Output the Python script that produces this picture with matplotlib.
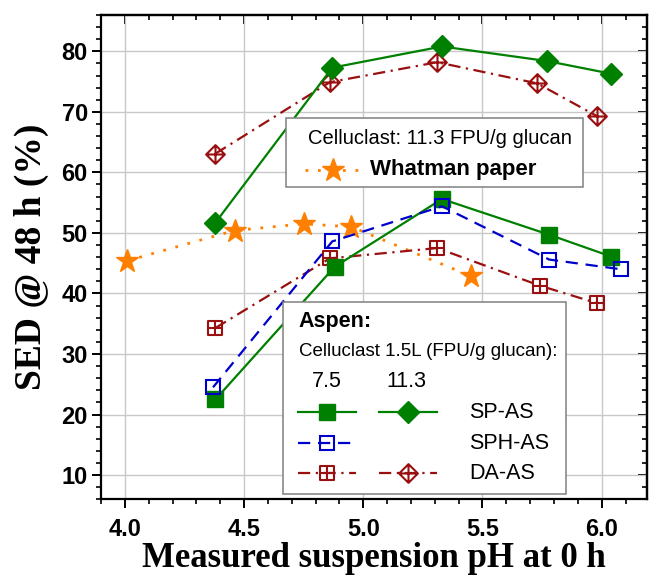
import matplotlib
matplotlib.use("Agg")
import matplotlib.pyplot as plt
from matplotlib.patches import Rectangle
from matplotlib.path import Path
from matplotlib.ticker import MultipleLocator

plt.rcParams["font.family"] = ["Liberation Sans", "DejaVu Sans"]

# Aspen pretreatments, Celluclast 1.5L at 7.5 FPU/g glucan
ph_sp_75 = [4.38, 4.88, 5.33, 5.78, 6.04]
sed_sp_75 = [22.5, 44.4, 55.6, 49.7, 46.1]
ph_sph_75 = [4.37, 4.87, 5.33, 5.78, 6.08]
sed_sph_75 = [24.5, 48.6, 54.4, 45.6, 44.0]
ph_da_75 = [4.38, 4.86, 5.31, 5.74, 5.98]
sed_da_75 = [34.3, 45.8, 47.5, 41.3, 38.4]

# Aspen pretreatments, Celluclast 1.5L at 11.3 FPU/g glucan
ph_sp_113 = [4.38, 4.87, 5.33, 5.77, 6.04]
sed_sp_113 = [51.7, 77.3, 80.8, 78.4, 76.3]
ph_da_113 = [4.38, 4.86, 5.31, 5.73, 5.98]
sed_da_113 = [63.1, 74.9, 78.2, 74.7, 69.3]

# Whatman paper reference, 11.3 FPU/g glucan
ph_whatman = [4.01, 4.46, 4.75, 4.95, 5.45]
sed_whatman = [45.4, 50.4, 51.5, 51.0, 42.9]

GREEN = "#008000"
BLUE = "#0000CC"
WINE = "#9A1010"
ORANGE = "#FF8000"

# open square / diamond with a plus inside
SQ_PLUS = Path(
    [(-1, -1), (1, -1), (1, 1), (-1, 1), (-1, -1), (0, -1), (0, 1), (-1, 0), (1, 0)],
    [Path.MOVETO, Path.LINETO, Path.LINETO, Path.LINETO, Path.CLOSEPOLY,
     Path.MOVETO, Path.LINETO, Path.MOVETO, Path.LINETO],
)
DI_PLUS = Path(
    [(0, -1), (1, 0), (0, 1), (-1, 0), (0, -1), (0, -1), (0, 1), (-1, 0), (1, 0)],
    [Path.MOVETO, Path.LINETO, Path.LINETO, Path.LINETO, Path.CLOSEPOLY,
     Path.MOVETO, Path.LINETO, Path.MOVETO, Path.LINETO],
)

DASHED = (0, (5.5, 3.5))
DASHDOT = (0, (5.5, 2.5, 1, 2.5))
DOTTED = (0, (1, 3.5))

styles = {
    "sp75": dict(color=GREEN, ls="-", lw=1.6, marker="s", ms=11, mfc=GREEN, mec=GREEN),
    "sp113": dict(color=GREEN, ls="-", lw=1.6, marker="D", ms=11.5, mfc=GREEN, mec=GREEN),
    "sph75": dict(color=BLUE, ls=DASHED, lw=1.6, marker="s", ms=10.5, mfc="none", mec=BLUE, mew=1.5),
    "da75": dict(color=WINE, ls=DASHDOT, lw=1.6, marker=SQ_PLUS, ms=10, mfc="none", mec=WINE, mew=1.5),
    "da113": dict(color=WINE, ls=DASHDOT, lw=1.6, marker=DI_PLUS, ms=13.5, mfc="none", mec=WINE, mew=1.5),
    "whatman": dict(color=ORANGE, ls=DOTTED, lw=2.0, marker="*", ms=17, mfc=ORANGE, mec=ORANGE),
}

fig = plt.figure(figsize=(6.49, 5.77), dpi=100)
ax = fig.add_axes([0.1556, 0.1347, 0.8413, 0.8393])

ax.plot(ph_whatman, sed_whatman, zorder=3, **styles["whatman"])
ax.plot(ph_da_113, sed_da_113, zorder=4, **styles["da113"])
ax.plot(ph_sp_113, sed_sp_113, zorder=5, **styles["sp113"])
ax.plot(ph_da_75, sed_da_75, zorder=4, **styles["da75"])
ax.plot(ph_sp_75, sed_sp_75, zorder=5, **styles["sp75"])
ax.plot(ph_sph_75, sed_sph_75, zorder=6, **styles["sph75"])

ax.xaxis.set_major_locator(MultipleLocator(0.5))
ax.xaxis.set_minor_locator(MultipleLocator(0.1))
ax.yaxis.set_major_locator(MultipleLocator(10))
ax.yaxis.set_minor_locator(MultipleLocator(2))
ax.set_xticks([4.0, 4.5, 5.0, 5.5, 6.0])
ax.set_xticklabels(["4.0", "4.5", "5.0", "5.5", "6.0"])
ax.set_yticks(range(10, 90, 10))
ax.set_ylim(6, 86)
ax.set_xlim(3.9, 6.19)

ax.grid(True, which="major", color="#c8c8c8", lw=1.0)
ax.set_axisbelow(True)
for sp in ax.spines.values():
    sp.set_linewidth(1.6)

ax.tick_params(which="major", direction="out", length=6.5, width=1.4,
               labelsize=17, pad=3)
ax.tick_params(which="minor", direction="out", length=3.5, width=1.2)
ax.tick_params(axis="x", which="major", pad=7)
for lab in ax.get_xticklabels() + ax.get_yticklabels():
    lab.set_fontweight("bold")

# top and right ticks point inward (Origin style)
secx = ax.secondary_xaxis("top")
secx.xaxis.set_major_locator(MultipleLocator(0.5))
secx.xaxis.set_minor_locator(MultipleLocator(0.1))
secx.tick_params(which="major", direction="in", length=6.5, width=1.4, labeltop=False)
secx.tick_params(which="minor", direction="in", length=3.5, width=1.2)
secx.spines["top"].set_linewidth(1.6)
secy = ax.secondary_yaxis("right")
secy.yaxis.set_major_locator(MultipleLocator(10))
secy.yaxis.set_minor_locator(MultipleLocator(2))
secy.tick_params(which="major", direction="in", length=6.5, width=1.4, labelright=False)
secy.tick_params(which="minor", direction="in", length=3.5, width=1.2)
secy.spines["right"].set_linewidth(1.6)

ax.set_xlabel("Measured suspension pH at 0 h", family="Liberation Serif",
              fontweight="bold", fontsize=25, labelpad=1)
ax.set_ylabel("SED @ 48 h (%)", family="Liberation Serif",
              fontweight="bold", fontsize=27, labelpad=9)


def legend_key(x0, x1, y, style):
    ax.plot([x0, (x0 + x1) / 2, x1], [y, y, y], transform=ax.transAxes,
            markevery=[1], clip_on=False, zorder=12, **style)


def legend_text(x, y, s, **kw):
    ax.text(x, y, s, transform=ax.transAxes, va="center", zorder=12, **kw)


# legend: Whatman paper
ax.add_patch(Rectangle((0.3388, 0.6442), 0.544, 0.1425, transform=ax.transAxes,
                       facecolor="white", edgecolor="#808080", lw=1.1, zorder=10))
legend_text(0.6209, 0.7454, "Celluclast: 11.3 FPU/g glucan", ha="center", fontsize=14.5)
legend_key(0.3733, 0.4760, 0.680, styles["whatman"])
legend_text(0.4920, 0.680, "Whatman paper", ha="left", fontsize=16, fontweight="bold")

# legend: Aspen
ax.add_patch(Rectangle((0.3339, 0.0103), 0.5183, 0.3971, transform=ax.transAxes,
                       facecolor="white", edgecolor="#808080", lw=1.1, zorder=10))
legend_text(0.3626, 0.3667, "Aspen:", ha="left", fontsize=15.5, fontweight="bold")
legend_text(0.3626, 0.3048, "Celluclast 1.5L (FPU/g glucan):", ha="left", fontsize=13.5)
legend_text(0.4139, 0.2428, "7.5", ha="center", fontsize=15.5)
legend_text(0.5590, 0.2428, "11.3", ha="center", fontsize=15.5)

rows = [
    (0.1796, "sp75", "sp113", "SP-AS"),
    (0.1156, "sph75", None, "SPH-AS"),
    (0.0537, "da75", "da113", "DA-AS"),
]
for y, low, high, name in rows:
    legend_key(0.3605, 0.4663, y, styles[low])
    if high:
        legend_key(0.5099, 0.6158, y, styles[high])
    legend_text(0.675, y, name, ha="left", fontsize=15.5)

fig.savefig("out.png", dpi=100)
